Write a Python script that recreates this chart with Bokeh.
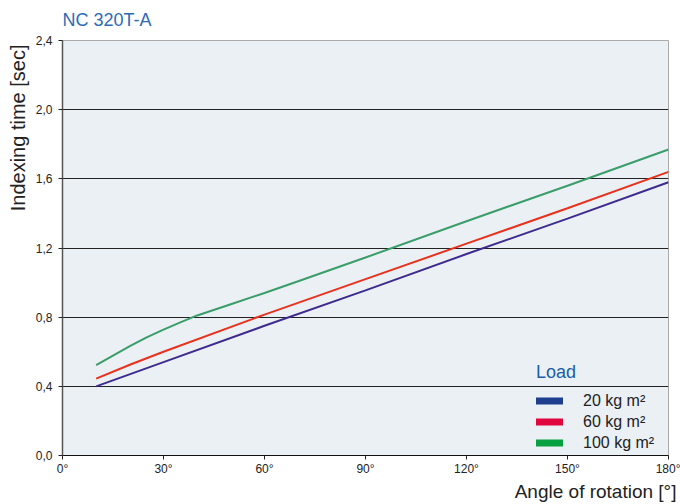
from bokeh.plotting import figure
from bokeh.models import Range1d, FixedTicker, Legend, LegendItem, Title
from bokeh.embed import file_html
from bokeh.resources import INLINE

# ---- data ----
angles_20 = [10, 30, 60, 90, 120, 150, 180]
time_20 = [0.40, 0.54, 0.75, 0.955, 1.165, 1.37, 1.58]

angles_60 = [10, 20, 30, 60, 90, 120, 150, 180]
time_60 = [0.445, 0.525, 0.60, 0.815, 1.02, 1.225, 1.43, 1.64]

angles_100 = [10, 15, 20, 25, 30, 35, 40, 50, 60, 70, 90, 120, 150, 180]
time_100 = [0.522, 0.578, 0.632, 0.683, 0.728, 0.77, 0.81, 0.875, 0.94, 1.008, 1.145, 1.355, 1.56, 1.77]

x_ticks = [0, 30, 60, 90, 120, 150, 180]
x_tick_labels = ["0°", "30°", "60°", "90°", "120°", "150°", "180°"]
y_ticks = [0, 0.4, 0.8, 1.2, 1.6, 2.0, 2.4]
y_tick_labels = ["0,0", "0,4", "0,8", "1,2", "1,6", "2,0", "2,4"]
legend_labels = ["20 kg m²", "60 kg m²", "100 kg m²"]

LINE_COLORS = ["#3d2b8e", "#e8321e", "#3a9d6a"]
SWATCH_COLORS = ["#1f3e8e", "#e2063f", "#07a13f"]
SANS = "Liberation Sans"

p = figure(width=680, height=504, output_backend="svg", toolbar_location=None,
           x_range=Range1d(0, 180), y_range=Range1d(0, 2.4),
           min_border_left=62, min_border_right=12, min_border_top=38, min_border_bottom=49)
p.title.text = "NC 320T-A"
p.title.text_font = SANS
p.title.text_font_size = "18px"
p.title.text_font_style = "normal"
p.title.text_color = "#2d6cb5"
p.title.vertical_align = "top"
p.title.standoff = 18

p.background_fill_color = "#ebf0f5"
p.border_fill_color = "white"
p.outline_line_color = "#aaaaaa"

# axes
p.xaxis.ticker = FixedTicker(ticks=x_ticks)
p.xaxis.major_label_overrides = {t: l for t, l in zip(x_ticks, x_tick_labels)}
p.yaxis.ticker = FixedTicker(ticks=y_ticks)
p.yaxis.major_label_overrides = {t: l for t, l in zip(y_ticks, y_tick_labels)}
for ax in (p.xaxis, p.yaxis):
    ax.major_tick_in = 0
    ax.major_tick_out = 4
    ax.minor_tick_line_color = None
    ax.major_tick_line_color = "#222222"
    ax.major_label_text_color = "#222222"
    ax.major_label_text_font_size = "12px"
    ax.major_label_text_font = SANS
p.xaxis.major_label_standoff = 2
p.yaxis.major_label_standoff = 6
p.xaxis.axis_line_color = "#111111"
p.yaxis.axis_line_color = "#555555"
p.yaxis.axis_line_width = 1.5

p.xgrid.grid_line_color = None
p.ygrid.ticker = FixedTicker(ticks=y_ticks[1:])
p.ygrid.grid_line_color = "#222222"
p.ygrid.grid_line_width = 1

# axis titles
p.add_layout(Title(text="Indexing time [sec]", align="right", text_font=SANS,
                   text_font_size="20px", text_font_style="normal",
                   text_color="#222222", standoff=7, offset=4), "left")
p.add_layout(Title(text="Angle of rotation [°]", align="right", text_font=SANS,
                   text_font_size="19px", text_font_style="normal",
                   text_color="#222222", standoff=0, offset=-8), "below")

# data lines
p.line(angles_20, time_20, line_color=LINE_COLORS[0], line_width=2)
p.line(angles_60, time_60, line_color=LINE_COLORS[1], line_width=2)
p.line(angles_100, time_100, line_color=LINE_COLORS[2], line_width=2)

# legend swatches: renderers kept muted (invisible in the plot), shown in legend
items = []
for lab, col, xs, ys in zip(legend_labels, SWATCH_COLORS,
                            [angles_20, angles_60, angles_100],
                            [time_20, time_60, time_100]):
    r = p.line(xs, ys, line_color=col, line_width=7, line_cap="round",
               muted_line_alpha=0)
    r.muted = True
    items.append(LegendItem(label=lab, renderers=[r]))

legend = Legend(items=items, location=(474, 3), title="Load",
                title_text_font=SANS, title_text_font_size="18px",
                title_text_font_style="normal", title_text_color="#1c5ea5",
                title_standoff=8,
                label_text_font=SANS, label_text_font_size="16px",
                label_text_color="#222222",
                label_standoff=20,
                glyph_width=27, glyph_height=19, label_height=19, spacing=2,
                padding=0, margin=0, border_line_color=None,
                background_fill_alpha=0)
p.add_layout(legend, "center")

open("out.html", "w").write(file_html(p, INLINE))
